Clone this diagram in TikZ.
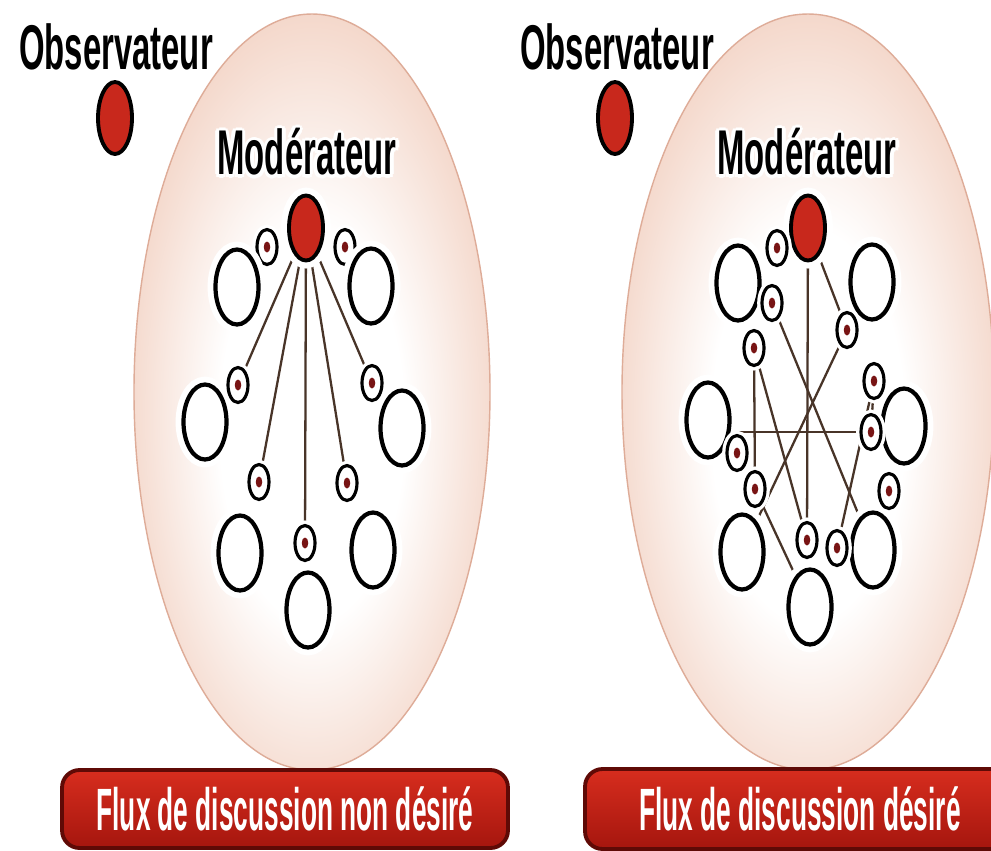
\documentclass[tikz,border=0pt]{standalone}
\usepackage{fontspec}
\usepackage{graphicx}
\usetikzlibrary{shapes.geometric}
\newfontfamily\condfont{Liberation Sans}
\definecolor{pinkbg}{RGB}{238,194,174}
\definecolor{pinkedge}{RGB}{222,172,152}
\definecolor{redfill}{RGB}{200,40,28}
\definecolor{linecol}{RGB}{72,52,40}
\definecolor{dotred}{RGB}{120,20,20}
\definecolor{bantop}{RGB}{215,45,30}
\definecolor{banbot}{RGB}{165,22,14}
\definecolor{banedge}{RGB}{95,10,6}
\pgfdeclareradialshading{bgglow}{\pgfpoint{0bp}{-3bp}}{color(0bp)=(white); color(13bp)=(white); color(34bp)=(pinkbg); color(50bp)=(pinkbg)}
\pgfdeclarelayer{back}
\pgfdeclarelayer{mid}
\pgfsetlayers{back,mid,main}
\newsavebox\hbx
\newsavebox\hbxb
\newdimen\hoff
\newcommand\halotxt[2]{\hoff=#1\relax\sbox\hbx{\color{white}#2}\sbox\hbxb{\color{black}#2}%
  \mbox{%
  \rlap{\kern\hoff\usebox\hbx}\rlap{\kern-\hoff\usebox\hbx}%
  \rlap{\raisebox{\hoff}{\usebox\hbx}}\rlap{\raisebox{-\hoff}{\usebox\hbx}}%
  \rlap{\kern0.7\hoff\raisebox{0.7\hoff}{\usebox\hbx}}\rlap{\kern-0.7\hoff\raisebox{0.7\hoff}{\usebox\hbx}}%
  \rlap{\kern0.7\hoff\raisebox{-0.7\hoff}{\usebox\hbx}}\rlap{\kern-0.7\hoff\raisebox{-0.7\hoff}{\usebox\hbx}}%
  \usebox\hbxb}}
\newcommand\lbl[3]{{\condfont\bfseries\fontsize{#1}{#1}\selectfont\scalebox{#2}[1]{#3}}}
\begin{document}
\begin{tikzpicture}[x=0.02cm,y=-0.02cm,
  person/.style={ellipse, draw=black, line width=2.4pt, fill=white, minimum width=0.86cm, minimum height=1.50cm, inner sep=0pt, preaction={draw=white, line width=9pt}},
  chip/.style={ellipse, draw=black, line width=1.8pt, fill=white, minimum width=0.40cm, minimum height=0.70cm, inner sep=0pt, preaction={draw=white, line width=5.5pt}, path picture={\fill[dotred] (path picture bounding box.center) ellipse (0.065cm and 0.11cm);}},
  leader/.style={ellipse, draw=black, line width=2.2pt, fill=redfill, minimum width=0.68cm, minimum height=1.30cm, inner sep=0pt},
  modhalo/.style={preaction={draw=white, line width=9pt}},
  halo/.style={draw=white, line width=4.5pt},
  conn/.style={draw=linecol, line width=1.3pt},
  txt/.style={inner sep=0pt},
  banner/.style={draw=banedge, line width=2.2pt, rounded corners=0.35cm, top color=bantop, bottom color=banbot, inner sep=0pt, text=white},
  ]
\useasboundingbox (0,0) rectangle (991,850);
\begin{pgfonlayer}{back}
\fill[white] (0,0) rectangle (991,850);
\shade[shading=bgglow, draw=pinkedge, line width=0.8pt] (312,392) ellipse (178 and 378);
\shade[shading=bgglow, draw=pinkedge, line width=0.8pt] (808,392) ellipse (186 and 378);
\end{pgfonlayer}

% ---------- left panel ----------
\node[txt] (tObsL) at (116,47) {\lbl{36pt}{0.52}{Observateur}};
\node[leader, minimum height=1.44cm] (oL) at (115,118) {};
\node[txt] (tModL) at (307,152) {\halotxt{2pt}{\lbl{36pt}{0.52}{Modérateur}}};
\node[leader, modhalo] (mL) at (306,228) {};
\node[chip] (k1) at (267,247) {};
\node[chip] (k2) at (345,247) {};
\node[person] (pUL) at (237,287) {};
\node[person] (pUR) at (371,286) {};
\node[person] (pML) at (205,422) {};
\node[person] (pMR) at (402,428) {};
\node[person] (pLL) at (240,553) {};
\node[person] (pLR) at (373,550) {};
\node[person] (pB) at (308,610) {};
\node[chip] (c1) at (238,385) {};
\node[chip] (c2) at (372,383) {};
\node[chip] (c3) at (259,482) {};
\node[chip] (c4) at (347,483) {};
\node[chip] (c5) at (305,543) {};

% ---------- right panel ----------
\node[txt] (tObsR) at (617,47) {\lbl{36pt}{0.52}{Observateur}};
\node[leader, minimum height=1.44cm] (oR) at (615,118) {};
\node[txt] (tModR) at (807,152) {\halotxt{2pt}{\lbl{36pt}{0.52}{Modérateur}}};
\node[leader, modhalo] (mR) at (808,228) {};
\node[chip] (r0) at (777,248) {};
\node[person] (qUL) at (738,283) {};
\node[person] (qUR) at (872,282) {};
\node[person] (qML) at (708,420) {};
\node[person] (qMR) at (904,426) {};
\node[person] (qLL) at (742,552) {};
\node[person] (qLR) at (873,550) {};
\node[person] (qB) at (810,607) {};
\node[chip] (A) at (772,303) {};
\node[chip] (B) at (754,348) {};
\node[chip] (C) at (847,330) {};
\node[chip] (D) at (874,381) {};
\node[chip] (E) at (871,432) {};
\node[chip] (F) at (737,453) {};
\node[chip] (G) at (755,489) {};
\node[chip] (H) at (889,491) {};
\node[chip] (I) at (807,540) {};
\node[chip] (J) at (837,548) {};
\coordinate (hL) at (qML.east |- E);

\begin{pgfonlayer}{mid}
\foreach \st in {halo,conn}{
  \draw[\st] (mL) -- (c1);
  \draw[\st] (mL) -- (c2);
  \draw[\st] (mL) -- (c3);
  \draw[\st] (mL) -- (c4);
  \draw[\st] (mL) -- (c5);
  \draw[\st] (mR) -- (I);
  \draw[\st] (mR) -- (C);
  \draw[\st] (A) -- (qLR);
  \draw[\st] (C) -- (qLL);
  \draw[\st] (hL) -- (E);
  \draw[\st] (B) -- (G);
  \draw[\st] (B) -- (I);
  \draw[\st] (D) -- (J);
  \draw[\st] (D) -- (E);
  \draw[\st] (G) -- (qB);
}
\end{pgfonlayer}

% ---------- banners ----------
\node[banner, minimum width=8.92cm, minimum height=1.56cm] (banL) at (285,809) {\lbl{34pt}{0.44}{Flux de discussion non désiré}};
\node[banner, minimum width=8.6cm, minimum height=1.6cm] (banR) at (800,809) {\lbl{34pt}{0.44}{Flux de discussion désiré}};
\end{tikzpicture}
\end{document}
